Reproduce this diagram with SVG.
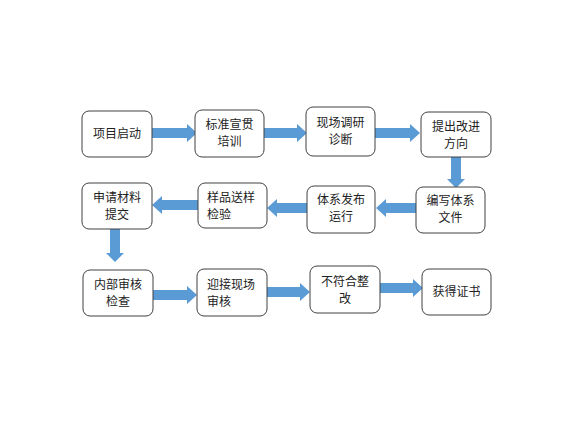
<svg xmlns="http://www.w3.org/2000/svg" width="576" height="432" viewBox="0 0 576 432">
<style>
.box{fill:#fff;stroke:#404040;stroke-width:1}
.t{font-family:"Noto Sans CJK SC","Liberation Sans",sans-serif;font-size:12px;fill:#222}
.c{text-anchor:middle}
.arr{fill:#5B9BD5}
</style>
<rect width="576" height="432" fill="#fff"/>
<g id="connectors">
<polygon class="arr" points="152,128 187,128 187,124 197,133 187,142 187,138 152,138"/>
<polygon class="arr" points="264,128 297,128 297,124 307,133 297,142 297,138 264,138"/>
<polygon class="arr" points="375,128 410,128 410,124 420,133 410,142 410,138 375,138"/>
<polygon class="arr" points="451,157 461,157 461,179 465,179 456,188 447,179 451,179"/>
<polygon class="arr" points="416,203 386,203 386,199 376,208 386,217 386,213 416,213"/>
<polygon class="arr" points="307,203 277,203 277,199 267,208 277,217 277,213 307,213"/>
<polygon class="arr" points="198,200 162,200 162,196 152,205 162,214 162,210 198,210"/>
<polygon class="arr" points="110,229 120,229 120,253 124,253 115,262 106,253 110,253"/>
<polygon class="arr" points="153,290 187,290 187,286 197,295 187,304 187,300 153,300"/>
<polygon class="arr" points="267,287 300,287 300,283 310,292 300,301 300,297 267,297"/>
<polygon class="arr" points="380,283 413,283 413,279 423,288 413,297 413,293 380,293"/>
</g>
<g id="n1"><rect class="box" x="82" y="111" width="70" height="46" rx="7"/><text class="t c" x="117" y="138">项目启动</text></g>
<g id="n2"><rect class="box" x="195" y="110" width="69" height="47" rx="7"/><text class="t c" x="229.5" y="129">标准宣贯</text><text class="t c" x="229.5" y="146">培训</text></g>
<g id="n3"><rect class="box" x="306" y="107" width="69" height="49" rx="7"/><text class="t c" x="340.5" y="127">现场调研</text><text class="t c" x="340.5" y="144">诊断</text></g>
<g id="n4"><rect class="box" x="421" y="112" width="70" height="45" rx="7"/><text class="t c" x="456" y="131">提出改进</text><text class="t c" x="456" y="148">方向</text></g>
<g id="n5"><rect class="box" x="416" y="187" width="69" height="46" rx="7"/><text class="t c" x="450.5" y="205">编写体系</text><text class="t c" x="450.5" y="222">文件</text></g>
<g id="n6"><rect class="box" x="307" y="186" width="68" height="47" rx="7"/><text class="t c" x="341" y="204">体系发布</text><text class="t c" x="341" y="221">运行</text></g>
<g id="n7"><rect class="box" x="198" y="183" width="69" height="45" rx="7"/><text class="t" x="207" y="202">样品送样</text><text class="t" x="207" y="219">检验</text></g>
<g id="n8"><rect class="box" x="82" y="183" width="70" height="46" rx="7"/><text class="t c" x="117" y="202">申请材料</text><text class="t c" x="117" y="219">提交</text></g>
<g id="n9"><rect class="box" x="83" y="270" width="70" height="46" rx="7"/><text class="t c" x="118" y="289">内部审核</text><text class="t c" x="118" y="306">检查</text></g>
<g id="n10"><rect class="box" x="197" y="269" width="70" height="47" rx="7"/><text class="t" x="207" y="289">迎接现场</text><text class="t" x="207" y="306">审核</text></g>
<g id="n11"><rect class="box" x="310" y="266" width="70" height="47" rx="7"/><text class="t c" x="345" y="286">不符合整</text><text class="t c" x="345" y="303">改</text></g>
<g id="n12"><rect class="box" x="422" y="269" width="69" height="46" rx="7"/><text class="t c" x="456.5" y="296">获得证书</text></g>
</svg>
